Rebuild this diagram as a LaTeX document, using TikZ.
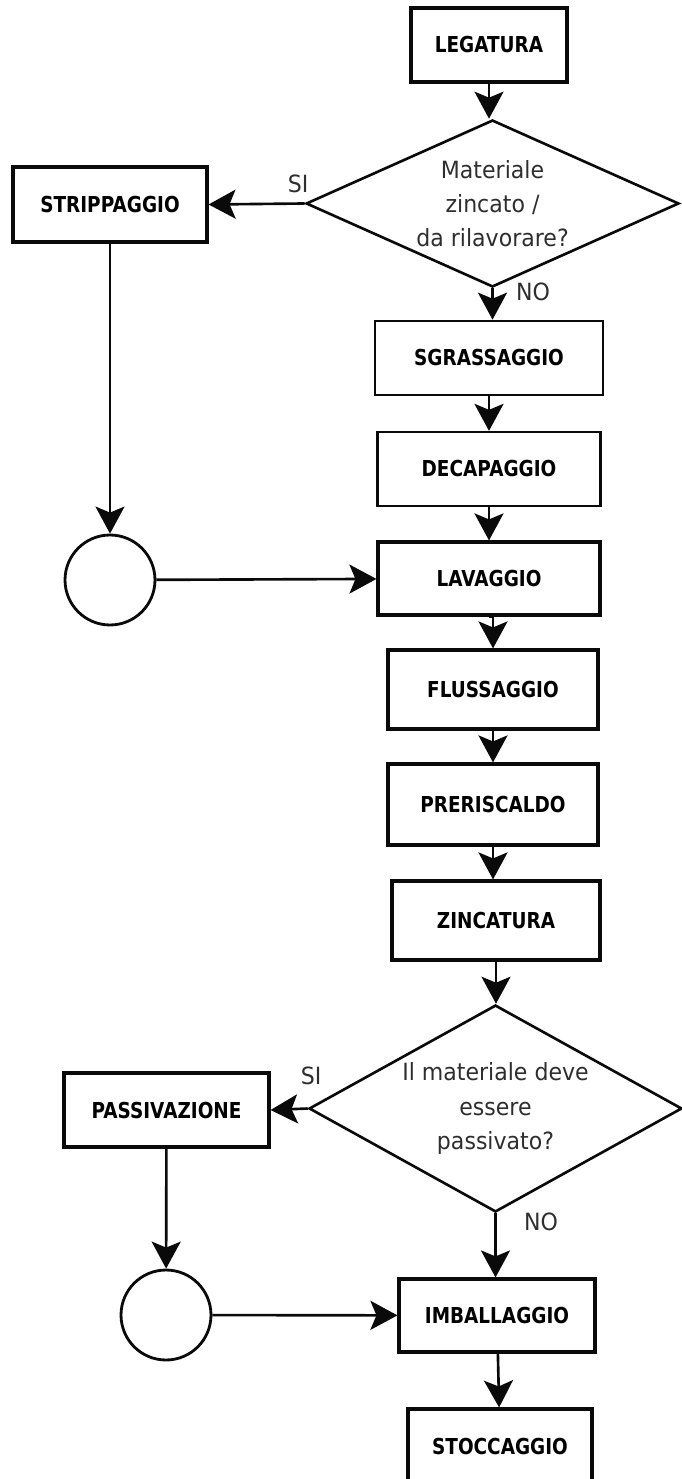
\documentclass[tikz,border=0pt]{standalone}
\usepackage{fontspec}
\setmainfont{DejaVu Sans}
\newfontfamily\boxfont{DejaVu Sans}[FakeStretch=0.84]
\newfontfamily\askfont{DejaVu Sans}[FakeStretch=0.93]
\usepackage{tikz}
\usepackage{xcolor}
\usetikzlibrary{arrows.meta,positioning,shapes.geometric,calc}
\definecolor{ink}{HTML}{0A0A0A}
\definecolor{inkgray}{HTML}{2E2E2E}
\tikzset{
  stepbox/.style={draw=ink,fill=white,line width=1.8pt,
                  minimum height=1.48cm,inner sep=2pt,align=center,
                  font=\boxfont\bfseries\fontsize{12.5}{14}\selectfont},
  choice/.style={draw=ink,diamond,line width=1.5pt,inner sep=0pt,
                 minimum width=7.46cm},
  asktext/.style={align=center,text=inkgray,
                  font=\askfont\fontsize{13.5}{19.5}\selectfont},
  joint/.style={draw=ink,circle,line width=1.6pt,minimum size=1.8cm,inner sep=0pt},
  answer/.style={font=\askfont\fontsize{13.5}{15}\selectfont,text=inkgray,inner sep=0pt},
  flowarr/.style={-{Stealth[length=5.4mm,width=5.8mm,inset=1.2mm]},line width=1.5pt,color=ink}
}

\begin{document}
\begin{tikzpicture}[x=0.02cm,y=-0.02cm]
      \useasboundingbox (0,0) rectangle (682,1479);
      % main column
      \node[stepbox,minimum width=3.12cm] (leg) at (489,45) {LEGATURA};
      \node[choice,minimum height=3.34cm] (q1) at (492.5,203.5) {};
      \node[asktext] at (q1) {Materiale\\zincato /\\da rilavorare?};
      \node[stepbox,minimum width=4.56cm,line width=1.5pt] (sgr) at (489,358) {SGRASSAGGIO};
      \node[stepbox,minimum width=4.46cm,line width=1.3pt] (dec) at (489,469) {DECAPAGGIO};
      \node[stepbox,minimum width=4.44cm,minimum height=1.46cm] (lav) at (489,578.5) {LAVAGGIO};
      \node[stepbox,minimum width=4.2cm,minimum height=1.58cm] (flu) at (493,689.5) {FLUSSAGGIO};
      \node[stepbox,minimum width=4.2cm,minimum height=1.62cm] (pre) at (493,804.5) {PRERISCALDO};
      \node[stepbox,minimum width=4.16cm,minimum height=1.58cm] (zin) at (496,920.5) {ZINCATURA};
      \node[choice,minimum height=4.14cm] (q2) at (495.5,1108.5) {};
      \node[asktext] at (q2) {Il materiale deve\\essere\\passivato?};
      \node[stepbox,minimum width=3.92cm,minimum height=1.46cm] (imb) at (497,1315.5) {IMBALLAGGIO};
      \node[stepbox,minimum width=3.68cm] (sto) at (500,1446) {STOCCAGGIO};

      % side branches
      \node[stepbox,minimum width=3.88cm,minimum height=1.5cm] (str) at (110,204.5) {STRIPPAGGIO};
      \node[joint] (j1) at (110,580) {};
      \node[stepbox,minimum width=4.1cm] (pas) at (166.5,1110) {PASSIVAZIONE};
      \node[joint] (j2) at (166,1315) {};

      % answers
      \node[answer] (si1) at (298,184) {SI};
      \node[answer] (no1) at (533,292) {NO};
      \node[answer] (si2) at (311,1076) {SI};
      \node[answer] (no2) at (541,1222) {NO};

      % connectors
      \draw[flowarr] (leg.south) -- (leg.south |- q1.north);
      \draw[flowarr] (q1.west) -- (str.east);
      \draw[flowarr] (q1.south) -- (q1.south |- sgr.north);
      \draw[flowarr] (sgr) -- (dec);
      \draw[flowarr] (dec) -- (lav);
      \draw[flowarr] (lav.south) -- (lav.south -| flu.north) -- (flu.north);
      \draw[flowarr] (flu) -- (pre);
      \draw[flowarr] (pre.south) -- (pre.south |- zin.north);
      \draw[flowarr] (zin.south) -- (zin.south |- q2.north);
      \draw[flowarr] (q2.west) -- (pas.east);
      \draw[flowarr] (q2.south) -- (q2.south |- imb.north);
      \draw[flowarr] (imb) -- (sto);
      \draw[flowarr] (str) -- (j1);
      \draw[flowarr] (j1) -- (lav);
      \draw[flowarr] (pas) -- (j2);
      \draw[flowarr] (j2) -- (imb);
    \end{tikzpicture}
\end{document}
